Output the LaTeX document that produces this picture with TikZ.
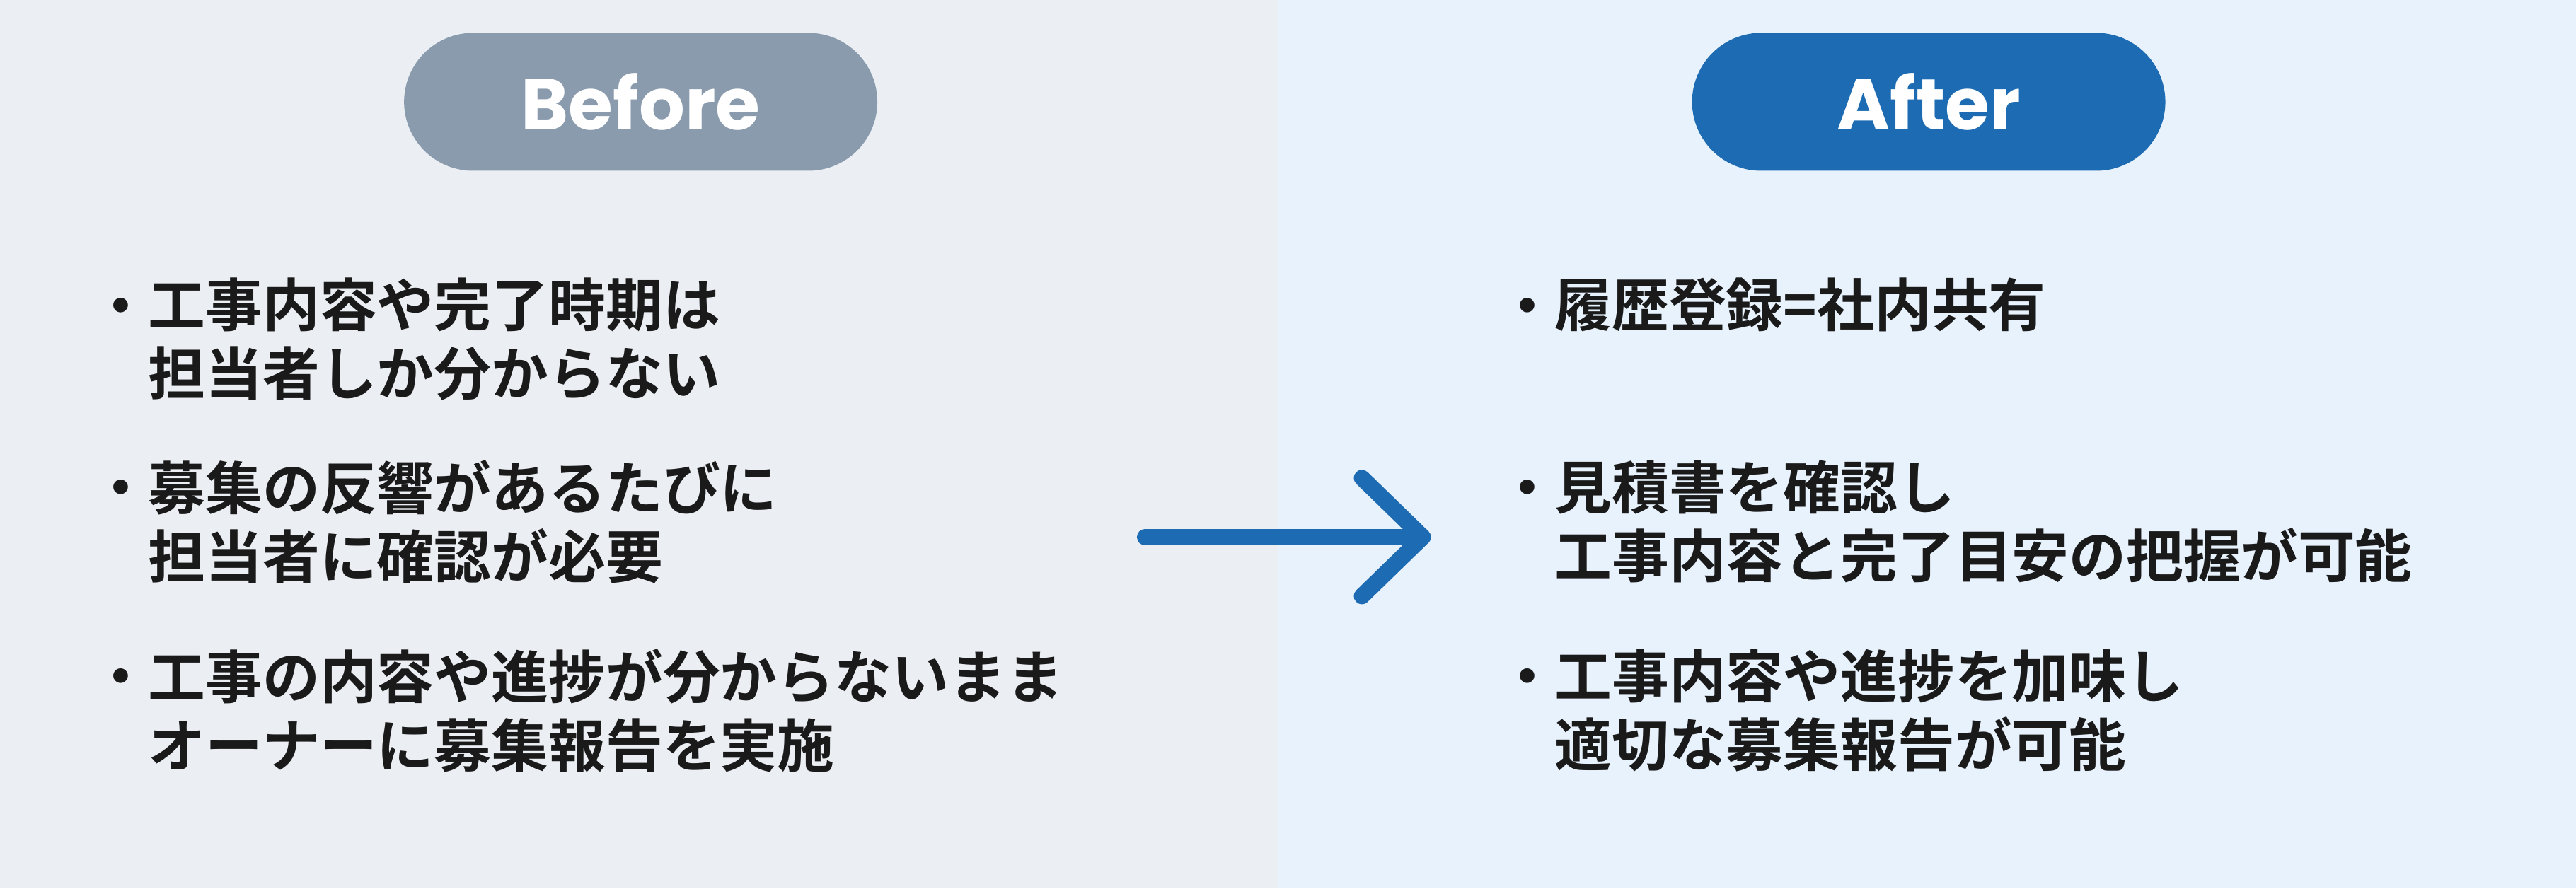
\documentclass[tikz,border=0pt]{standalone}
\usepackage{fontspec}
\newfontfamily\jp{Noto Sans CJK JP}[BoldFont={* Bold}]
\newfontfamily\pop{Poppins}
\usetikzlibrary{positioning}
\definecolor{leftbg}{HTML}{EBEFF3}
\definecolor{rightbg}{HTML}{E8F2FC}
\definecolor{beforecol}{HTML}{8A9BAE}
\definecolor{aftercol}{HTML}{1C6BB3}
\definecolor{txt}{HTML}{1A1A1A}
\tikzset{
  pill/.style={rounded corners=0.975cm, minimum width=6.69cm, minimum height=1.95cm, inner sep=0pt,
               text=white, font=\pop\bfseries\fontsize{29}{29}\selectfont},
  item/.style={anchor=north west, inner sep=0pt, align=left, text=txt,
               font=\jp\bfseries\fontsize{23}{27.5}\selectfont},
  dot/.style={anchor=base west, inner sep=0pt, text=txt,
              font=\jp\bfseries\fontsize{23}{27.5}\selectfont},
  go/.style={draw=aftercol, line width=0.23cm, line cap=round, line join=round},
}
\begin{document}
\begin{tikzpicture}[x=0.02322cm, y=-0.02322cm]
  \useasboundingbox (0,0) rectangle (1568,541);
  \fill[leftbg] (0,0) rectangle (778,541);
  \fill[rightbg] (778,0) rectangle (1568,541);

  \node[pill, fill=beforecol] (before) at (390,62) {Before};
  \node[pill, fill=aftercol] (after) at (1174,62) {After};

  % before
  \node[dot] (b1) at (56,199) {・};
  \node[item] (t1) at (90,169) {工事内容や完了時期は\\担当者しか分からない};
  \node[dot] (b2) at (56,310) {・};
  \node[item] (t2) at (90,280) {募集の反響があるたびに\\担当者に確認が必要};
  \node[dot] (b3) at (56,425) {・};
  \node[item] (t3) at (90,395) {工事の内容や進捗が分からないまま\\オーナーに募集報告を実施};

  % after
  \node[dot] (a1) at (912,199) {・};
  \node[item] (u1) at (946,169) {履歴登録=社内共有};
  \node[dot] (a2) at (912,310) {・};
  \node[item] (u2) at (946,280) {見積書を確認し\\工事内容と完了目安の把握が可能};
  \node[dot] (a3) at (912,425) {・};
  \node[item] (u3) at (946,395) {工事内容や進捗を加味し\\適切な募集報告が可能};

  \coordinate (tail) at (697,327);
  \coordinate (tip) at (866,327);
  \draw[go] (tail) -- (tip);
  \draw[go] (829,291) -- (tip) -- (829,363);
\end{tikzpicture}
\end{document}
